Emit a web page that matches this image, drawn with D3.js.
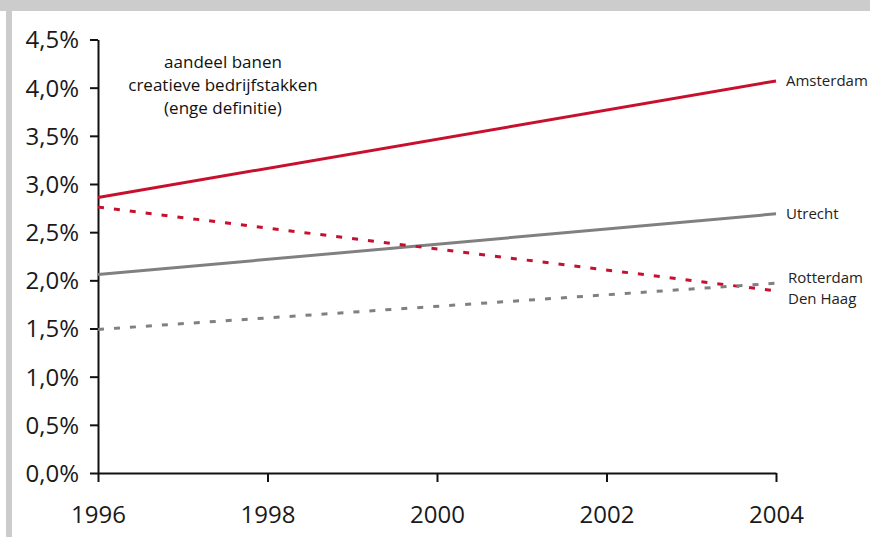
<!DOCTYPE html>
<html>
<head>
<meta charset="utf-8">
<script src="https://cdn.jsdelivr.net/npm/d3@7"></script>
<style>
  html, body { margin: 0; padding: 0; background: #fff; }
  svg { display: block; font-family: "Open Sans", "Liberation Sans", sans-serif; }
</style>
</head>
<body>
<svg id="chart" width="870" height="537"></svg>
<script>
// Share of jobs in creative industries (narrow definition), 1996–2004
const years = [1996, 2004];
const amsterdam = [0.0286, 0.0407];
const utrecht = [0.0206, 0.0269];
const rotterdam = [0.0276, 0.0189];
const denHaag = [0.0149, 0.0197];
const xTicks = [1996, 1998, 2000, 2002, 2004];
const yTicks = [0, 0.005, 0.01, 0.015, 0.02, 0.025, 0.03, 0.035, 0.04, 0.045];
const noteLines = ["aandeel banen", "creatieve bedrijfstakken", "(enge definitie)"];

const series = [
  { name: "Amsterdam", values: amsterdam, color: "#c8102e", dash: null },
  { name: "Utrecht", values: utrecht, color: "#808080", dash: null },
  { name: "Rotterdam", values: rotterdam, color: "#c8102e", dash: "6,10" },
  { name: "Den Haag", values: denHaag, color: "#808080", dash: "6,10" }
];

const svg = d3.select("#chart");

// grey frame along the top and left edge
svg.append("rect").attr("x", 0).attr("y", 0).attr("width", 870).attr("height", 11).attr("fill", "#cccccc");
svg.append("rect").attr("x", 6).attr("y", 0).attr("width", 6).attr("height", 537).attr("fill", "#cccccc");

const x = d3.scaleLinear().domain([1996, 2004]).range([98, 776]);
const y = d3.scaleLinear().domain([0, 0.045]).range([473, 39.5]);

const nl = d3.formatLocale({ decimal: ",", thousands: ".", grouping: [3], currency: ["€", ""] });
const pct = nl.format(".1%");

// y axis
const yAxis = svg.append("g")
  .attr("transform", `translate(${x(1996)},0)`)
  .call(d3.axisLeft(y).tickValues(yTicks).tickSize(8).tickSizeOuter(0).tickPadding(11).tickFormat(pct));
yAxis.select(".domain").attr("stroke", "#111").attr("stroke-width", 2);
yAxis.selectAll(".tick line").attr("stroke", "#111").attr("stroke-width", 2);
yAxis.selectAll(".tick text")
  .attr("font-size", 24).attr("fill", "#1a1a1a")
  .attr("font-family", "'Open Sans', sans-serif")
  .attr("dy", "0.35em");

// x axis
const xAxis = svg.append("g")
  .attr("transform", `translate(0,${y(0)})`)
  .call(d3.axisBottom(x).tickValues(xTicks).tickSize(9).tickSizeOuter(0).tickFormat(d3.format("d")));
xAxis.select(".domain").attr("stroke", "#111").attr("stroke-width", 2);
xAxis.selectAll(".tick line").attr("stroke", "#111").attr("stroke-width", 2);
xAxis.selectAll(".tick text")
  .attr("font-size", 24).attr("fill", "#1a1a1a")
  .attr("font-family", "'Open Sans', sans-serif")
  .attr("y", 50).attr("dy", 0);

// series lines
const line = d3.line()
  .x((d, i) => x(years[i]))
  .y(d => y(d));

svg.append("g").selectAll("path")
  .data(series)
  .join("path")
  .attr("d", d => line(d.values))
  .attr("fill", "none")
  .attr("stroke", d => d.color)
  .attr("stroke-width", 3)
  .attr("stroke-dasharray", d => d.dash);

// series labels at the line ends
const lbl = svg.append("g").attr("font-size", 15).attr("fill", "#222");
lbl.append("text").attr("x", 786).attr("y", y(amsterdam[1])).attr("dy", "0.35em").text("Amsterdam");
lbl.append("text").attr("x", 786).attr("y", y(utrecht[1])).attr("dy", "0.35em").text("Utrecht");
lbl.append("text").attr("x", 788).attr("y", 278).attr("dy", "0.35em").text("Rotterdam");
lbl.append("text").attr("x", 788).attr("y", 299).attr("dy", "0.35em").text("Den Haag");

// note
svg.append("g").attr("font-size", 17).attr("fill", "#111").attr("text-anchor", "middle")
  .selectAll("text")
  .data(noteLines)
  .join("text")
  .attr("x", 223)
  .attr("y", (d, i) => 68 + i * 23)
  .text(d => d);
</script>
</body>
</html>
